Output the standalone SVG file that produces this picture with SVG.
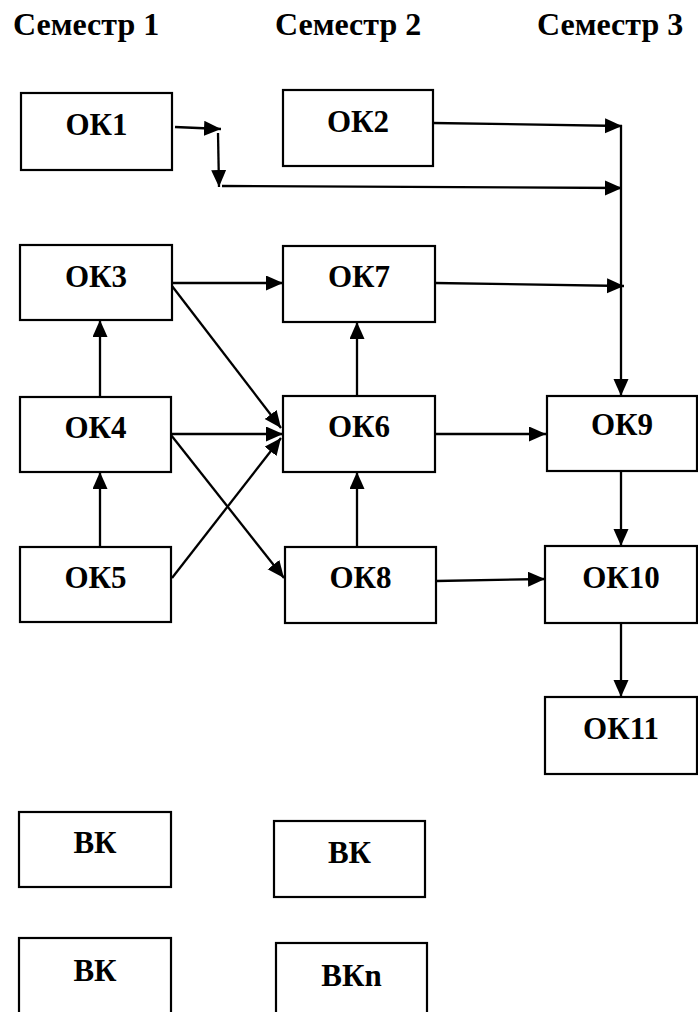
<svg xmlns="http://www.w3.org/2000/svg" width="698" height="1012" viewBox="0 0 698 1012">
<style>
.box{fill:#fff;stroke:#000;stroke-width:2.2}
.lbl{font-family:'Liberation Serif','DejaVu Serif',serif;font-weight:bold;font-size:31px;text-anchor:middle;fill:#000}
.hdr{font-family:'Liberation Serif','DejaVu Serif',serif;font-weight:bold;font-size:32px;fill:#000}
.ln{stroke:#000;stroke-width:2.3;fill:none}
.arr{marker-end:url(#ah)}
</style>
<defs>
<marker id="ah" markerUnits="userSpaceOnUse" markerWidth="18" markerHeight="16" refX="17" refY="7.5" orient="auto">
<path d="M0,0 L17,7.5 L0,15 z" fill="#000"/>
</marker>
</defs>
<rect width="698" height="1012" fill="#fff"/>
<g id="headers" font-family="Liberation Serif, serif">
<text class="hdr" x="13" y="35">Семестр 1</text>
<text class="hdr" x="275" y="35">Семестр 2</text>
<text class="hdr" x="537" y="35">Семестр 3</text>
</g>
<g id="connectors">
<line class="ln arr" x1="175" y1="127" x2="221" y2="129"/>
<line class="ln arr" x1="218" y1="133" x2="219" y2="187"/>
<line class="ln arr" x1="222" y1="186" x2="622" y2="188"/>
<line class="ln arr" x1="433" y1="123" x2="622" y2="126"/>
<line class="ln arr" x1="621" y1="125" x2="621" y2="396"/>
<line class="ln arr" x1="435" y1="283" x2="624" y2="286"/>
<line class="ln arr" x1="172" y1="283" x2="283" y2="283"/>
<line class="ln arr" x1="100" y1="397" x2="100" y2="320"/>
<line class="ln arr" x1="100" y1="547" x2="100" y2="472"/>
<line class="ln arr" x1="172" y1="286" x2="281" y2="428"/>
<line class="ln arr" x1="171" y1="434" x2="283" y2="434"/>
<line class="ln arr" x1="172" y1="578" x2="281" y2="438"/>
<line class="ln arr" x1="171" y1="435" x2="284" y2="578"/>
<line class="ln arr" x1="357" y1="396" x2="357" y2="322"/>
<line class="ln arr" x1="357" y1="547" x2="357" y2="472"/>
<line class="ln arr" x1="435" y1="434" x2="546" y2="434"/>
<line class="ln arr" x1="436" y1="581" x2="545" y2="579"/>
<line class="ln arr" x1="621" y1="471" x2="621" y2="546"/>
<line class="ln arr" x1="621" y1="623" x2="621" y2="697"/>
</g>
<g id="OK1"><rect class="box" x="21" y="93" width="151" height="77"/><text class="lbl" x="96.5" y="135">ОК1</text></g>
<g id="OK2"><rect class="box" x="283" y="90" width="150" height="76"/><text class="lbl" x="358" y="132">ОК2</text></g>
<g id="OK3"><rect class="box" x="20" y="245" width="152" height="75"/><text class="lbl" x="96" y="287">ОК3</text></g>
<g id="OK7"><rect class="box" x="283" y="246" width="152" height="76"/><text class="lbl" x="359" y="287">ОК7</text></g>
<g id="OK4"><rect class="box" x="20" y="397" width="151" height="75"/><text class="lbl" x="95.5" y="438">ОК4</text></g>
<g id="OK6"><rect class="box" x="283" y="396" width="152" height="76"/><text class="lbl" x="359" y="437">ОК6</text></g>
<g id="OK9"><rect class="box" x="547" y="396" width="150" height="75"/><text class="lbl" x="622" y="435">ОК9</text></g>
<g id="OK5"><rect class="box" x="20" y="547" width="151" height="75"/><text class="lbl" x="95.5" y="588">ОК5</text></g>
<g id="OK8"><rect class="box" x="285" y="547" width="151" height="76"/><text class="lbl" x="360.5" y="588">ОК8</text></g>
<g id="OK10"><rect class="box" x="545" y="546" width="152" height="77"/><text class="lbl" x="621" y="588">ОК10</text></g>
<g id="OK11"><rect class="box" x="545" y="697" width="152" height="77"/><text class="lbl" x="621" y="739">ОК11</text></g>
<g id="BK1"><rect class="box" x="19" y="812" width="152" height="75"/><text class="lbl" x="95" y="853">ВК</text></g>
<g id="BK2"><rect class="box" x="274" y="821" width="151" height="76"/><text class="lbl" x="349.5" y="863">ВК</text></g>
<g id="BK3"><rect class="box" x="19" y="938" width="152" height="80"/><text class="lbl" x="95" y="981">ВК</text></g>
<g id="BKn"><rect class="box" x="276" y="943" width="151" height="75"/><text class="lbl" x="351.5" y="986">ВКn</text></g>
</svg>
